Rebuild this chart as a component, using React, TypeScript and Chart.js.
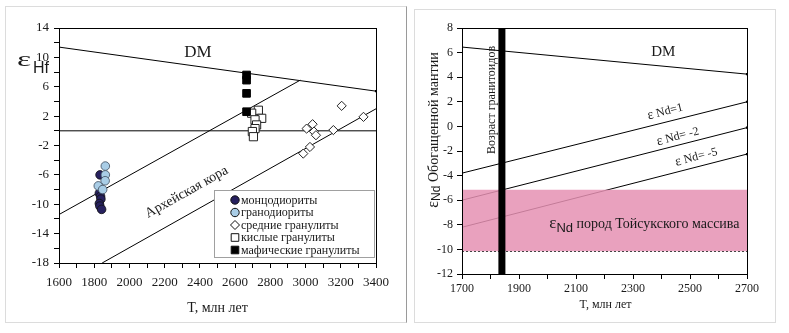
import React, { useEffect, useRef } from 'react';
import { Chart, registerables } from 'chart.js';

Chart.register(...registerables);

const SERIF = '"Liberation Serif", "Times New Roman", Times, serif';
const SANS = '"Liberation Sans", Arial, sans-serif';
const INK = '#1a1a1a';

// ---------------- Left chart: εHf vs T ----------------
const hfXTicks = [1600, 1800, 2000, 2200, 2400, 2600, 2800, 3000, 3200, 3400];
const hfYTicks = [-18, -14, -10, -6, -2, 2, 6, 10, 14];
const hfLegendLabels = ['монцодиориты', 'гранодиориты', 'средние гранулиты', 'кислые гранулиты', 'мафические гранулиты'];
const hfXTitle = 'T, млн лет';
const hfYTitle = ['ε', 'Hf'];
const hfDMLabel = 'DM';
const hfCrustLabel = 'Архейская кора';

const hfDMLine = [[1600, 11.4], [3400, 5.4]];
const hfZeroLine = [[1600, 0], [3400, 0]];
const hfCrustUpper = [[1600, -11.4], [2970, 6.9]];
const hfCrustLower = [[1845, -18], [3400, 3.0]];

const monzodiorites = [[1833, -6.0], [1829, -8.5], [1836, -8.9], [1838, -9.3], [1829, -9.9], [1832, -10.25], [1842, -10.7]];
const granodiorites = [[1863, -4.8], [1863, -6.0], [1862, -6.8], [1823, -7.5], [1848, -8.0]];
const midGranulites = [[3006, 0.3], [3040, 0.9], [3048, -0.1], [3059, -0.6], [3158, 0.1], [3205, 3.4], [3329, 1.9], [3025, -2.2], [2987, -3.1]];
const felsicGranulites = [[2732, 2.8], [2694, 2.4], [2751, 1.7], [2713, 1.5], [2722, 0.8], [2713, 0.3], [2698, -0.1], [2704, -0.8]];
const maficGranulites = [[2665, 7.6], [2665, 6.9], [2665, 5.1], [2665, 2.6]];

// ---------------- Right chart: εNd vs T ----------------
const ndXTicks = [1700, 1900, 2100, 2300, 2500, 2700];
const ndYTicks = [-12, -10, -8, -6, -4, -2, 0, 2, 4, 6, 8];
const ndXTitle = 'T, млн лет';
const ndYTitle = ['ε', 'Nd', ' Обогащенной мантии'];
const ndDMLabel = 'DM';
const ndAgeLabel = 'Возраст гранитоидов';
const ndLineLabels = [['ε', ' Nd=1'], ['ε', ' Nd= -2'], ['ε', ' Nd= -5']];
const ndBandLabel = ['ε', 'Nd', ' пород Тойсукского массива'];

const ndDMLine = [[1700, 6.45], [2700, 4.25]];
const ndLine1 = [[1700, -3.8], [2700, 2.0]];
const ndLineM2 = [[1700, -6.0], [2700, -0.1]];
const ndLineM5 = [[1700, -8.2], [2700, -2.25]];
const ndBandX = [1700, 2700];
const ndBandY = [-10.15, -5.15];
const granitoidAge = 1840;

const xy = (arr: number[][]) => arr.map(([x, y]) => ({ x, y }));

function axis(min: number, max: number, step: number, labels: number[], size: number, pad: number, fontSize: number, isX: boolean) {
  return {
    type: 'linear',
    min,
    max,
    ticks: {
      stepSize: step,
      autoSkip: false,
      maxRotation: 0,
      minRotation: 0,
      padding: pad,
      color: INK,
      font: { family: SERIF, size: fontSize },
      callback: (v: number) => (labels.includes(Math.round(v)) ? String(Math.round(v)) : ''),
    },
    grid: { drawOnChartArea: false, drawTicks: true, tickLength: 5, color: '#000', lineWidth: 1 },
    border: { display: true, color: '#000', width: 1 },
    afterFit: (s: any) => {
      if (isX) s.height = size;
      else s.width = size;
    },
  };
}

function lineDs(data: number[][], radius = 1.5) {
  return {
    type: 'line',
    data: xy(data),
    borderColor: '#000',
    borderWidth: 1,
    pointRadius: radius,
    pointStyle: 'rect',
    pointBackgroundColor: '#000',
    pointBorderColor: '#000',
    pointBorderWidth: 0,
    fill: false,
    tension: 0,
  };
}

function richText(ctx: CanvasRenderingContext2D, parts: { t: string; font: string; dy: number }[], cx: number, cy: number, angle: number) {
  ctx.save();
  ctx.translate(cx, cy);
  ctx.rotate(angle);
  ctx.textAlign = 'left';
  ctx.textBaseline = 'middle';
  let total = 0;
  const widths = parts.map((p) => {
    ctx.font = p.font;
    const w = ctx.measureText(p.t).width;
    total += w;
    return w;
  });
  let x = -total / 2;
  parts.forEach((p, i) => {
    ctx.font = p.font;
    ctx.fillText(p.t, x, p.dy);
    x += widths[i];
  });
  ctx.restore();
}

function lineAngle(scales: any, line: number[][]) {
  const x1 = scales.x.getPixelForValue(line[0][0]);
  const y1 = scales.y.getPixelForValue(line[0][1]);
  const x2 = scales.x.getPixelForValue(line[1][0]);
  const y2 = scales.y.getPixelForValue(line[1][1]);
  return Math.atan2(y2 - y1, x2 - x1);
}

const hfOverlay = {
  id: 'hfOverlay',
  afterDraw(chart: any) {
    const { ctx, chartArea: a, scales } = chart;
    const sx = scales.x;
    const sy = scales.y;
    ctx.save();
    ctx.strokeStyle = '#000';
    ctx.lineWidth = 1;
    ctx.strokeRect(Math.round(a.left) + 0.5, Math.round(a.top) + 0.5, Math.round(a.right - a.left), Math.round(a.bottom - a.top));
    ctx.fillStyle = INK;

    // DM label
    ctx.font = `17px ${SERIF}`;
    ctx.textAlign = 'center';
    ctx.textBaseline = 'middle';
    ctx.fillText(hfDMLabel, sx.getPixelForValue(2389), sy.getPixelForValue(10.6));

    // Archean crust label
    richText(ctx, [{ t: hfCrustLabel, font: `14px ${SERIF}`, dy: 0 }], sx.getPixelForValue(2325), sy.getPixelForValue(-8.35), lineAngle(scales, hfCrustLower));

    // y title εHf
    ctx.textAlign = 'left';
    ctx.textBaseline = 'alphabetic';
    ctx.save();
    ctx.translate(a.left - 42, a.top + 38);
    ctx.scale(1.6, 1);
    ctx.font = `21px ${SERIF}`;
    ctx.fillText(hfYTitle[0], 0, 0);
    ctx.restore();
    ctx.font = `16px ${SANS}`;
    ctx.fillText(hfYTitle[1], a.left - 26, a.top + 45);

    // x title
    ctx.font = `14px ${SERIF}`;
    ctx.textAlign = 'center';
    ctx.textBaseline = 'middle';
    ctx.fillText(hfXTitle, (a.left + a.right) / 2, a.bottom + 45);

    // legend
    const bx = a.right - 162;
    const by = a.bottom - 73;
    const bw = 160;
    const bh = 67;
    ctx.fillStyle = '#fff';
    ctx.fillRect(bx, by, bw, bh);
    ctx.strokeStyle = '#a0a0a0';
    ctx.strokeRect(bx + 0.5, by + 0.5, bw, bh);
    const styles = [
      { shape: 'circle', fill: '#27215f' },
      { shape: 'circle', fill: '#a9cde6' },
      { shape: 'diamond', fill: '#fff' },
      { shape: 'square', fill: '#fff' },
      { shape: 'square', fill: '#000' },
    ];
    hfLegendLabels.forEach((label, i) => {
      const cy = by + 10 + i * 12.5;
      const mx = bx + 21;
      const st = styles[i];
      ctx.fillStyle = st.fill;
      ctx.strokeStyle = '#111';
      ctx.lineWidth = 1;
      ctx.beginPath();
      if (st.shape === 'circle') ctx.arc(mx, cy, 4.2, 0, Math.PI * 2);
      else if (st.shape === 'diamond') {
        ctx.moveTo(mx, cy - 4.5);
        ctx.lineTo(mx + 4.5, cy);
        ctx.lineTo(mx, cy + 4.5);
        ctx.lineTo(mx - 4.5, cy);
        ctx.closePath();
      } else ctx.rect(mx - 3.8, cy - 3.8, 7.6, 7.6);
      ctx.fill();
      ctx.stroke();
      ctx.fillStyle = INK;
      ctx.font = `12px ${SERIF}`;
      ctx.textAlign = 'left';
      ctx.textBaseline = 'middle';
      ctx.fillText(label, bx + 27, cy + 0.5);
    });
    ctx.restore();
  },
};

const ndOverlay = {
  id: 'ndOverlay',
  afterDatasetsDraw(chart: any) {
    const { ctx, chartArea: a, scales } = chart;
    const sx = scales.x;
    const sy = scales.y;
    ctx.save();
    // band
    const x1 = sx.getPixelForValue(ndBandX[0]);
    const x2 = sx.getPixelForValue(ndBandX[1]);
    const y1 = sy.getPixelForValue(ndBandY[1]);
    const y2 = sy.getPixelForValue(ndBandY[0]);
    ctx.fillStyle = 'rgba(229,144,179,0.85)';
    ctx.fillRect(x1, y1, x2 - x1, y2 - y1);
    ctx.strokeStyle = '#444';
    ctx.setLineDash([2, 2]);
    ctx.lineWidth = 1;
    ctx.beginPath();
    ctx.moveTo(x1, Math.round(y2) + 0.5);
    ctx.lineTo(x2, Math.round(y2) + 0.5);
    ctx.stroke();
    ctx.setLineDash([]);

    // granitoid age bar
    const gx = sx.getPixelForValue(granitoidAge);
    ctx.fillStyle = '#000';
    ctx.fillRect(gx - 3.5, a.top, 7, a.bottom - a.top);

    // frame
    ctx.strokeStyle = '#000';
    ctx.strokeRect(Math.round(a.left) + 0.5, Math.round(a.top) + 0.5, Math.round(a.right - a.left), Math.round(a.bottom - a.top));

    ctx.fillStyle = INK;
    ctx.textAlign = 'center';
    ctx.textBaseline = 'middle';
    ctx.font = `15px ${SERIF}`;
    ctx.fillText(ndDMLabel, sx.getPixelForValue(2406), sy.getPixelForValue(6.05));

    richText(ctx, [{ t: ndAgeLabel, font: `12px ${SERIF}`, dy: 0 }], sx.getPixelForValue(1803), sy.getPixelForValue(2.15), -Math.PI / 2);

    const lineLabelPos = [[2413, 1.2, ndLine1], [2457, -0.82, ndLineM2], [2522, -2.49, ndLineM5]];
    ndLineLabels.forEach((parts, i) => {
      const [lx, ly, line] = lineLabelPos[i] as any;
      richText(
        ctx,
        [
          { t: parts[0], font: `14px ${SERIF}`, dy: 0 },
          { t: parts[1], font: `12px ${SERIF}`, dy: 0 },
        ],
        sx.getPixelForValue(lx),
        sy.getPixelForValue(ly),
        lineAngle(scales, line)
      );
    });

    richText(
      ctx,
      [
        { t: ndBandLabel[0], font: `17px ${SERIF}`, dy: -1 },
        { t: ndBandLabel[1], font: `13px ${SANS}`, dy: 4 },
        { t: ndBandLabel[2], font: `14px ${SERIF}`, dy: 0 },
      ],
      sx.getPixelForValue(2340),
      sy.getPixelForValue(-8.0),
      0
    );

    // y title
    richText(
      ctx,
      [
        { t: ndYTitle[0], font: `16px ${SERIF}`, dy: 0 },
        { t: ndYTitle[1], font: `12px ${SANS}`, dy: 3 },
        { t: ndYTitle[2], font: `14px ${SERIF}`, dy: 0 },
      ],
      a.left - 28,
      a.top + 102,
      -Math.PI / 2
    );

    // x title
    ctx.font = `12px ${SERIF}`;
    ctx.textAlign = 'center';
    ctx.textBaseline = 'middle';
    ctx.fillText(ndXTitle, (a.left + a.right) / 2 + 1, a.bottom + 31);
    ctx.restore();
  },
};

function hfConfig(): any {
  return {
    type: 'scatter',
    data: {
      datasets: [
        { label: hfLegendLabels[1], data: xy(granodiorites), pointStyle: 'circle', pointRadius: 4.3, backgroundColor: '#a9cde6', borderColor: '#3c4a5a', borderWidth: 0.8 },
        { label: hfLegendLabels[0], data: xy(monzodiorites), pointStyle: 'circle', pointRadius: 4.3, backgroundColor: '#27215f', borderColor: '#111', borderWidth: 0.8 },
        { label: hfLegendLabels[4], data: xy(maficGranulites), pointStyle: 'rect', pointRadius: 5.4, backgroundColor: '#000', borderColor: '#000', borderWidth: 1 },
        { label: hfLegendLabels[3], data: xy(felsicGranulites), pointStyle: 'rect', pointRadius: 5.8, backgroundColor: '#fff', borderColor: '#222', borderWidth: 1 },
        { label: hfLegendLabels[2], data: xy(midGranulites), pointStyle: 'rectRot', pointRadius: 4.6, backgroundColor: '#fff', borderColor: '#222', borderWidth: 1 },
        { label: 'DM', ...lineDs(hfDMLine) },
        { label: '0', ...lineDs(hfZeroLine, 0) },
        { label: 'crust1', ...lineDs(hfCrustUpper, 0) },
        { label: 'crust2', ...lineDs(hfCrustLower, 0) },
      ],
    },
    options: {
      animation: false,
      responsive: false,
      devicePixelRatio: 1,
      layout: { padding: { top: 21, right: 30, left: 0, bottom: 0 } },
      plugins: { legend: { display: false }, tooltip: { enabled: false } },
      scales: {
        x: axis(1600, 3400, 100, hfXTicks, 59, 7, 13, true),
        y: axis(-18, 14, 2, hfYTicks, 53, 5, 13, false),
      },
    },
    plugins: [hfOverlay],
  };
}

function ndConfig(): any {
  return {
    type: 'scatter',
    data: {
      datasets: [
        { label: 'DM', ...lineDs(ndDMLine) },
        { label: 'εNd=1', ...lineDs(ndLine1) },
        { label: 'εNd=-2', ...lineDs(ndLineM2) },
        { label: 'εNd=-5', ...lineDs(ndLineM5) },
      ],
    },
    options: {
      animation: false,
      responsive: false,
      devicePixelRatio: 1,
      layout: { padding: { top: 18, right: 28, left: 0, bottom: 0 } },
      plugins: { legend: { display: false }, tooltip: { enabled: false } },
      scales: {
        x: axis(1700, 2700, 100, ndXTicks, 48, 3, 12, true),
        y: axis(-12, 8, 2, ndYTicks, 47, 4, 12, false),
      },
    },
    plugins: [ndOverlay],
  };
}

export default function App() {
  const leftRef = useRef<HTMLCanvasElement>(null);
  const rightRef = useRef<HTMLCanvasElement>(null);

  useEffect(() => {
    const c1 = new Chart(leftRef.current as HTMLCanvasElement, hfConfig());
    const c2 = new Chart(rightRef.current as HTMLCanvasElement, ndConfig());
    return () => {
      c1.destroy();
      c2.destroy();
    };
  }, []);

  return (
    <div style={{ position: 'absolute', left: 0, top: 0, width: 789, height: 333, background: '#fff', overflow: 'hidden' }}>
      <div
        style={{
          position: 'absolute',
          left: 5,
          top: 6,
          width: 402,
          height: 317,
          boxSizing: 'border-box',
          borderTop: '1px solid #dcdcdc',
          borderLeft: '1px solid #dcdcdc',
          borderBottom: '1px solid #dcdcdc',
          borderRight: '1px solid #9a9a9a',
        }}
      >
        <canvas ref={leftRef} width={400} height={315} style={{ display: 'block' }} />
      </div>
      <div
        style={{
          position: 'absolute',
          left: 414,
          top: 9,
          width: 362,
          height: 314,
          boxSizing: 'border-box',
          border: '1px solid #dcdcdc',
        }}
      >
        <canvas ref={rightRef} width={360} height={312} style={{ display: 'block' }} />
      </div>
    </div>
  );
}
